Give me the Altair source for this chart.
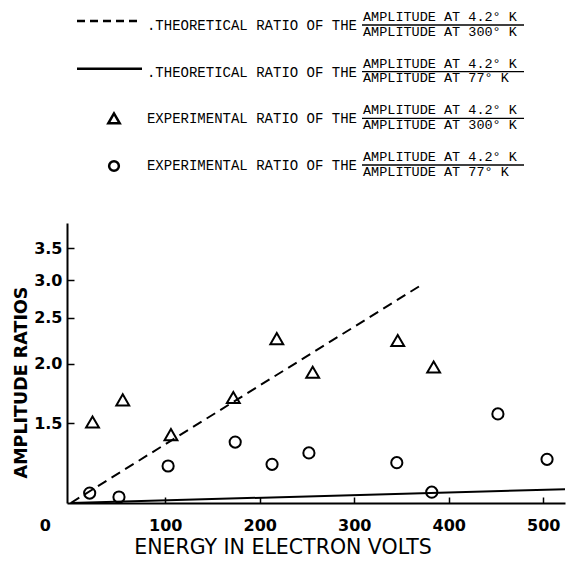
import altair as alt
import pandas as pd

# ---- data ----
tri_energy = [23, 55, 106, 172, 218, 256, 346, 384]
tri_ratio = [1.51, 1.68, 1.42, 1.70, 2.26, 1.92, 2.24, 1.97]

circ_energy = [20, 51, 103, 174, 213, 252, 345, 382, 452, 504]
circ_ratio = [1.07, 1.05, 1.22, 1.37, 1.23, 1.30, 1.24, 1.075, 1.57, 1.26]

theo300_energy = [0, 371]
theo300_ratio = [1.02, 2.93]
theo77_energy = [0, 523]
theo77_ratio = [1.02, 1.09]

x_ticks = [0, 100, 200, 300, 400, 500]
y_ticks = [1.5, 2.0, 2.5, 3.0, 3.5]

legend_rows = [1, 2, 3, 4]
legend_labels = [".THEORETICAL RATIO OF THE", ".THEORETICAL RATIO OF THE",
                 "EXPERIMENTAL RATIO OF THE", "EXPERIMENTAL RATIO OF THE"]
legend_num = ["AMPLITUDE AT 4.2° K"] * 4
legend_den = ["AMPLITUDE AT 300° K", "AMPLITUDE AT 77° K",
              "AMPLITUDE AT 300° K", "AMPLITUDE AT 77° K"]

tri_df = pd.DataFrame({"energy": tri_energy, "ratio": tri_ratio})
circ_df = pd.DataFrame({"energy": circ_energy, "ratio": circ_ratio})
t300_df = pd.DataFrame({"energy": theo300_energy, "ratio": theo300_ratio})
t77_df = pd.DataFrame({"energy": theo77_energy, "ratio": theo77_ratio})
leg_df = pd.DataFrame({"row": legend_rows, "label": legend_labels,
                       "num": legend_num, "den": legend_den})

SANS = "DejaVu Sans"
MONO = "Liberation Mono"

X = alt.X(
    "energy:Q",
    scale=alt.Scale(domain=[-4, 523], nice=False, zero=False),
    axis=alt.Axis(
        values=x_ticks, format="d", grid=False, labelFlush=False, labelOverlap=False,
        labelFont=SANS, labelFontSize=16, labelFontWeight="bold", labelColor="black",
        labelPadding=20,
        labelOffset={"condition": {"test": "datum.value == 0", "value": -26}, "value": 0},
        tickOpacity={"condition": {"test": "datum.value == 0", "value": 0}, "value": 1},
        tickSize={"expr": "-6"}, tickWidth=1.5, tickColor="black",
        domainColor="black", domainWidth=2,
        title="ENERGY IN ELECTRON VOLTS", titleFont=SANS, titleFontSize=20.5,
        titleFontWeight="normal", titleColor="black",
        titleX=215.5, titleY=44, titleAlign="center", titleBaseline="middle",
    ),
)

Y = alt.Y(
    "ratio:Q",
    scale=alt.Scale(type="log", domain=[1.02, 3.955], nice=False),
    axis=alt.Axis(
        values=y_ticks, format=".1f", grid=False,
        labelFont=SANS, labelFontSize=16, labelFontWeight="bold", labelColor="black",
        labelPadding=12,
        tickSize={"expr": "-7"}, tickWidth=1.5, tickColor="black",
        domainColor="black", domainWidth=2,
        title="AMPLITUDE RATIOS", titleFont=SANS, titleFontSize=17.5,
        titleFontWeight="bold", titleColor="black", titleAngle=270,
        titleX=-46, titleY=159, titleAlign="center", titleBaseline="middle",
    ),
)

dashed = alt.Chart(t300_df).mark_line(
    color="black", strokeWidth=2, strokeDash=[10, 6]
).encode(x=X, y=Y)
solid = alt.Chart(t77_df).mark_line(color="black", strokeWidth=2).encode(x=X, y=Y)
tris = alt.Chart(tri_df).mark_point(
    shape="triangle-up", filled=False, color="black", strokeWidth=2, size=165, opacity=1
).encode(x=X, y=Y)
circs = alt.Chart(circ_df).mark_point(
    shape="circle", filled=False, color="black", strokeWidth=2, size=125, opacity=1
).encode(x=X, y=Y)

main = alt.layer(dashed, solid, tris, circs)

# ---- typed legend above the plot ----
YL = alt.Y("row:Q", scale=alt.Scale(domain=[1, 4], range=[-197, -57], nice=False, zero=False),
           axis=None)
base = alt.Chart(leg_df)

leg_label = base.mark_text(align="right", baseline="middle", font=MONO, fontSize=14,
                           color="black").encode(x=alt.value(290), y=YL, text="label:N")
leg_num = base.mark_text(align="left", baseline="middle", font=MONO, fontSize=13.5,
                         color="black", dy=-9).encode(x=alt.value(296), y=YL, text="num:N")
leg_den = base.mark_text(align="left", baseline="middle", font=MONO, fontSize=13.5,
                         color="black", dy=5.5).encode(x=alt.value(296), y=YL, text="den:N")
leg_bar = base.mark_rule(color="black", strokeWidth=1.3, yOffset=-1).encode(
    x=alt.value(295), x2=alt.value(457), y=YL)
leg_dash = base.transform_filter(alt.datum.row == 1).mark_rule(
    color="black", strokeWidth=2.5, strokeDash=[8, 5], yOffset=-5
).encode(x=alt.value(10), x2=alt.value(72), y=YL)
leg_solid = base.transform_filter(alt.datum.row == 2).mark_rule(
    color="black", strokeWidth=2.5, yOffset=-4
).encode(x=alt.value(10), x2=alt.value(75), y=YL)
leg_tri = base.transform_filter(alt.datum.row == 3).mark_point(
    shape="triangle-up", filled=False, color="black", strokeWidth=2.5, size=130, opacity=1,
    yOffset=-1
).encode(x=alt.value(47), y=YL)
leg_circ = base.transform_filter(alt.datum.row == 4).mark_point(
    shape="circle", filled=False, color="black", strokeWidth=2.5, size=95, opacity=1
).encode(x=alt.value(47), y=YL)

legend = alt.layer(leg_label, leg_num, leg_den, leg_bar, leg_dash, leg_solid, leg_tri, leg_circ)

chart = alt.layer(main, legend).resolve_scale(y="independent").properties(
    width=498, height=280,
    padding={"left": 59, "top": 215, "right": 5, "bottom": 54},
    autosize=alt.AutoSizeParams(type="none"),
    background="white",
).configure_view(stroke=None)

chart.save("out.html", embed_options={"renderer": "svg", "actions": False})
